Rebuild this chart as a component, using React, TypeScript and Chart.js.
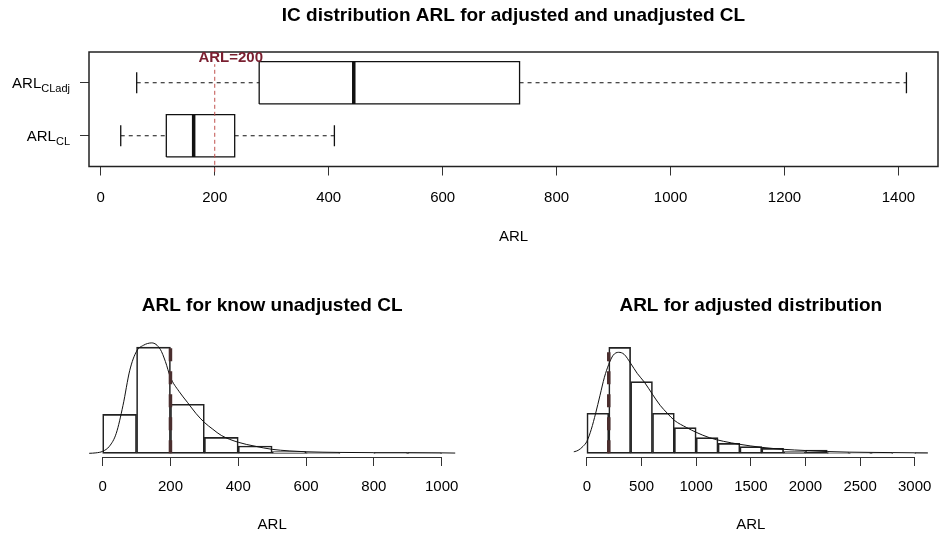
import React, { useEffect, useRef } from "react";
import { Chart, registerables } from "chart.js";

Chart.register(...registerables);

const FONT = "'Liberation Sans', Arial, Helvetica, sans-serif";
Chart.defaults.font.family = FONT;

// ---------- Top panel: boxplots ----------
const TOP_TITLE = "IC distribution ARL for adjusted and unadjusted CL";
const boxNames = ["ARL", "ARL"];
const boxSubs = ["CLadj", "CL"];
const boxPos = [2, 1];
const boxMin = [63, 35];
const boxQ1 = [278, 115];
const boxMed = [444, 163];
const boxQ3 = [735, 235];
const boxMax = [1414, 410];
const topTicks = [0, 200, 400, 600, 800, 1000, 1200, 1400];
const refARL = 200;
const refLabel = "ARL=200";
const refSpan = [0.32, 2.35];

// ---------- Bottom-left: unadjusted CL histogram (density x 1e-3) ----------
const LEFT_TITLE = "ARL for know unadjusted CL";
const leftBreaks = [0, 100, 200, 300, 400, 500, 600, 700, 800, 900, 1000];
const leftDensity = [1.76, 4.81, 2.22, 0.72, 0.33, 0.08, 0.03, 0, 0.02, 0.02];
const leftKdeX = [-40, -20, 0, 20, 40, 60, 80, 100, 120, 145, 170, 185, 200, 225, 250, 275, 300, 325, 350, 400, 450, 500, 550, 600, 700, 800, 900, 1000, 1045];
const leftKdeY = [0, 0.02, 0.09, 0.32, 0.9, 2.17, 3.76, 4.62, 4.89, 5.0, 4.71, 4.16, 3.44, 2.81, 2.31, 1.81, 1.4, 1.09, 0.81, 0.5, 0.32, 0.18, 0.11, 0.07, 0.04, 0.03, 0.03, 0.02, 0.01];
const leftTicks = [0, 200, 400, 600, 800, 1000];

// ---------- Bottom-right: adjusted distribution histogram (density x 1e-4) ----------
const RIGHT_TITLE = "ARL for adjusted distribution";
const rightBreaks = [0, 200, 400, 600, 800, 1000, 1200, 1400, 1600, 1800, 2000, 2200, 2400, 2600, 2800, 3000, 3200];
const rightDensity = [6.1, 16.15, 10.93, 6.1, 3.92, 2.39, 1.52, 1.02, 0.76, 0.26, 0.5, 0.12, 0.08, 0.08, 0, 0.06];
const rightKdeX = [-140, -80, -35, 0, 40, 80, 120, 160, 200, 240, 290, 340, 400, 460, 527, 600, 670, 736, 800, 913, 1000, 1120, 1250, 1400, 1600, 1800, 2000, 2200, 2400, 2600, 2800, 3000, 3150];
const rightKdeY = [0.15, 0.46, 1.07, 1.83, 3.66, 6.1, 8.84, 11.58, 13.56, 14.94, 15.39, 15.09, 13.72, 12.19, 10.82, 8.99, 7.32, 6.1, 5.03, 3.92, 3.2, 2.39, 1.83, 1.37, 0.91, 0.61, 0.43, 0.27, 0.18, 0.14, 0.11, 0.08, 0.06];
const rightTicks = [0, 500, 1000, 1500, 2000, 2500, 3000];

const seg = (pts: { x: number; y: number }[], extra: any = {}) => ({
  type: "line",
  data: pts,
  showLine: true,
  borderColor: "#111",
  borderWidth: 1.3,
  pointRadius: 0,
  fill: false,
  tension: 0,
  ...extra,
});

const setTicks = (vals: number[]) => (s: any) => {
  s.ticks = vals.map((v) => ({ value: v }));
};
const plainLabel = (v: any) => String(v);

const framePlugin = {
  id: "frame",
  afterDraw(chart: any) {
    const { ctx, chartArea: a } = chart;
    ctx.save();
    ctx.strokeStyle = "#222";
    ctx.lineWidth = 1.5;
    ctx.strokeRect(a.left, a.top, a.right - a.left, a.bottom - a.top);
    ctx.restore();
  },
};

const boxLabelPlugin = {
  id: "boxLabels",
  afterDraw(chart: any) {
    const { ctx } = chart;
    const ys = chart.scales.y;
    const xs = chart.scales.x;
    ctx.save();
    ctx.fillStyle = "#000";
    ctx.textBaseline = "alphabetic";
    boxPos.forEach((p, i) => {
      const y = ys.getPixelForValue(p);
      ctx.font = `11px ${FONT}`;
      const sw = ctx.measureText(boxSubs[i]).width;
      ctx.font = `15px ${FONT}`;
      const mw = ctx.measureText(boxNames[i]).width;
      const right = 70;
      ctx.textAlign = "left";
      ctx.fillText(boxNames[i], right - sw - mw, y + 5.5);
      ctx.font = `11px ${FONT}`;
      ctx.fillText(boxSubs[i], right - sw, y + 9.5);
    });
    // reference label
    ctx.font = `bold 15px ${FONT}`;
    ctx.fillStyle = "#7a1f30";
    ctx.textAlign = "center";
    ctx.textBaseline = "middle";
    ctx.fillText(refLabel, xs.getPixelForValue(refARL) + 16, ys.getPixelForValue(2.5) + 2);
    ctx.restore();
  },
};

const axisLinePlugin = {
  id: "axisLine",
  afterDraw(chart: any) {
    const { ctx, chartArea: a } = chart;
    const xs = chart.scales.x;
    const t = xs.ticks;
    if (!t.length) return;
    ctx.save();
    ctx.strokeStyle = "#333";
    ctx.lineWidth = 1;
    ctx.beginPath();
    ctx.moveTo(xs.getPixelForValue(t[0].value), a.bottom + 0.5);
    ctx.lineTo(xs.getPixelForValue(t[t.length - 1].value), a.bottom + 0.5);
    ctx.stroke();
    ctx.restore();
  },
};

function makeTop(canvas: HTMLCanvasElement) {
  const datasets: any[] = [];
  datasets.push(
    seg(
      [
        { x: refARL, y: refSpan[0] },
        { x: refARL, y: refSpan[1] },
      ],
      { borderColor: "#c0504d", borderWidth: 1, borderDash: [4, 3], clip: false }
    )
  );
  boxPos.forEach((c, i) => {
    const h = 0.4;
    const cap = 0.2;
    datasets.push(
      seg([
        { x: boxQ1[i], y: c - h },
        { x: boxQ3[i], y: c - h },
        { x: boxQ3[i], y: c + h },
        { x: boxQ1[i], y: c + h },
        { x: boxQ1[i], y: c - h },
      ])
    );
    datasets.push(
      seg(
        [
          { x: boxMed[i], y: c - h },
          { x: boxMed[i], y: c + h },
        ],
        { borderWidth: 3.5 }
      )
    );
    datasets.push(
      seg(
        [
          { x: boxMin[i], y: c },
          { x: boxQ1[i], y: c },
        ],
        { borderDash: [4, 4], borderWidth: 1 }
      )
    );
    datasets.push(
      seg(
        [
          { x: boxQ3[i], y: c },
          { x: boxMax[i], y: c },
        ],
        { borderDash: [4, 4], borderWidth: 1 }
      )
    );
    datasets.push(
      seg([
        { x: boxMin[i], y: c - cap },
        { x: boxMin[i], y: c + cap },
      ])
    );
    datasets.push(
      seg([
        { x: boxMax[i], y: c - cap },
        { x: boxMax[i], y: c + cap },
      ])
    );
  });

  return new Chart(canvas, {
    type: "scatter",
    data: { datasets },
    options: {
      responsive: false,
      animation: false,
      layout: { padding: { left: 0, right: 6, top: 0, bottom: 0 } },
      plugins: {
        legend: { display: false },
        tooltip: { enabled: false },
        title: {
          display: true,
          text: TOP_TITLE,
          fullSize: false,
          color: "#000",
          font: { size: 19, weight: "bold", family: FONT },
          padding: { top: 4.6, bottom: 24.6 },
        },
      },
      scales: {
        x: {
          type: "linear",
          min: -20.7,
          max: 1469.4,
          afterBuildTicks: setTicks(topTicks),
          afterFit: (s: any) => {
            s.height = 93.5;
          },
          border: { display: false },
          grid: { drawOnChartArea: false, drawTicks: true, tickLength: 9, color: "#333" },
          ticks: { color: "#000", font: { size: 15 }, padding: 13, maxRotation: 0, autoSkip: false, callback: plainLabel },
          title: { display: true, text: "ARL", color: "#000", font: { size: 15 }, padding: { top: 0, bottom: 14 } },
        },
        y: {
          type: "linear",
          min: 0.42,
          max: 2.58,
          afterBuildTicks: setTicks(boxPos),
          afterFit: (s: any) => {
            s.width = 89;
          },
          border: { display: false },
          grid: { drawOnChartArea: false, drawTicks: true, tickLength: 9, color: "#333" },
          ticks: { display: false },
        },
      },
    },
    plugins: [framePlugin, boxLabelPlugin],
  } as any);
}

function makeHist(
  canvas: HTMLCanvasElement,
  title: string,
  breaks: number[],
  dens: number[],
  kx: number[],
  ky: number[],
  ticks: number[],
  xmin: number,
  xmax: number,
  ymin: number,
  ymax: number,
  padLeft: number,
  padRight: number
) {
  const bars = dens.map((d, i) => ({ x: (breaks[i] + breaks[i + 1]) / 2, y: d }));
  const kde = kx.map((x, i) => ({ x, y: ky[i] }));
  const peak = Math.max(...ky);
  return new Chart(canvas, {
    type: "bar",
    data: {
      datasets: [
        {
          type: "line",
          data: [
            { x: refARL, y: 0 },
            { x: refARL, y: peak },
          ],
          borderColor: "#4a2e2e",
          borderWidth: 3.5,
          borderDash: [13, 10],
          pointRadius: 0,
          fill: false,
          clip: false,
        },
        {
          type: "line",
          data: kde,
          borderColor: "#111",
          borderWidth: 1,
          pointRadius: 0,
          fill: false,
          cubicInterpolationMode: "monotone",
        },
        {
          type: "bar",
          data: bars,
          backgroundColor: "rgba(255,255,255,0)",
          borderColor: "#222",
          borderWidth: 1,
          borderSkipped: false,
          barPercentage: 1,
          categoryPercentage: 1,
        },
      ],
    },
    options: {
      responsive: false,
      animation: false,
      layout: { padding: { left: padLeft, right: padRight, top: 0, bottom: 0 } },
      plugins: {
        legend: { display: false },
        tooltip: { enabled: false },
        title: {
          display: true,
          text: title,
          fullSize: false,
          color: "#000",
          font: { size: 19, weight: "bold", family: FONT },
          padding: { top: 24.6, bottom: 19.1 },
        },
      },
      scales: {
        x: {
          type: "linear",
          min: xmin,
          max: xmax,
          offset: false,
          afterBuildTicks: setTicks(ticks),
          afterFit: (s: any) => {
            s.height = 82;
          },
          border: { display: false },
          grid: { drawOnChartArea: false, drawTicks: true, tickLength: 9, color: "#333", offset: false },
          ticks: { color: "#000", font: { size: 15 }, padding: 12, maxRotation: 0, autoSkip: false, callback: plainLabel },
          title: { display: true, text: "ARL", color: "#000", font: { size: 15 }, padding: { top: 0, bottom: 5 } },
        },
        y: {
          type: "linear",
          display: false,
          min: ymin,
          max: ymax,
        },
      },
    },
    plugins: [axisLinePlugin],
  } as any);
}

export default function App() {
  const topRef = useRef<HTMLCanvasElement>(null);
  const leftRef = useRef<HTMLCanvasElement>(null);
  const rightRef = useRef<HTMLCanvasElement>(null);

  useEffect(() => {
    const charts: Chart[] = [];
    if (topRef.current) charts.push(makeTop(topRef.current));
    if (leftRef.current)
      charts.push(
        makeHist(leftRef.current, LEFT_TITLE, leftBreaks, leftDensity, leftKdeX, leftKdeY, leftTicks, -40, 1040, -0.167, 5.29, 89.1, 16.8)
      );
    if (rightRef.current)
      charts.push(
        makeHist(rightRef.current, RIGHT_TITLE, rightBreaks, rightDensity, rightKdeX, rightKdeY, rightTicks, -120, 3120, -0.56, 17.8, 101.8, 5.1)
      );
    return () => charts.forEach((c) => c.destroy());
  }, []);

  return (
    <div style={{ position: "fixed", left: 0, top: 0, width: 944, height: 539, background: "#fff", overflow: "hidden" }}>
      <canvas ref={topRef} width={944} height={260} style={{ position: "absolute", left: 0, top: 0 }} />
      <canvas ref={leftRef} width={472} height={269} style={{ position: "absolute", left: 0, top: 270 }} />
      <canvas ref={rightRef} width={472} height={269} style={{ position: "absolute", left: 472, top: 270 }} />
    </div>
  );
}
